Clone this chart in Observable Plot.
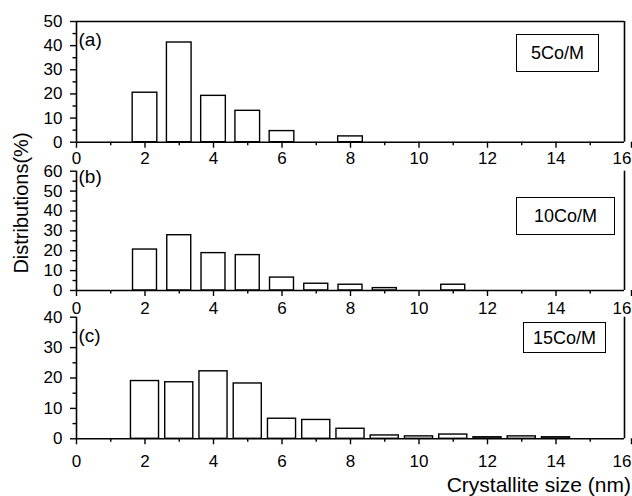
<!DOCTYPE html>
<html>
<head>
<meta charset="utf-8">
<script src="https://cdn.jsdelivr.net/npm/d3@7"></script>
<script src="https://cdn.jsdelivr.net/npm/@observablehq/plot@0.6"></script>
<style>
  body { margin: 0; background: #fff; }
  #chart { position: relative; width: 632px; height: 496px; font-family: "Liberation Sans", Arial, sans-serif; color: #000; overflow: hidden; }
  #chart svg { position: absolute; left: 0; top: 0; }
  .sample { position: absolute; box-sizing: border-box; border: 1.5px solid #000; display: flex; align-items: center; justify-content: center; font-size: 18px; line-height: 1; background: #fff; }
  .title { position: absolute; font-size: 20px; line-height: 1; white-space: nowrap; }
</style>
</head>
<body>
<div id="chart"></div>
<script>
// Crystallite size distributions of the three cobalt loadings
const sizesA = [2, 3, 4, 5, 6, 8];
const valuesA = [20.5, 41.3, 19.2, 13.0, 4.6, 2.4];

const sizesB = [2, 3, 4, 5, 6, 7, 8, 9, 11];
const valuesB = [20.6, 27.8, 18.8, 17.8, 6.5, 3.4, 2.9, 1.2, 2.9];

const sizesC = [2, 3, 4, 5, 6, 7, 8, 9, 10, 11, 12, 13, 14];
const valuesC = [19.0, 18.6, 22.2, 18.2, 6.6, 6.2, 3.3, 1.1, 0.8, 1.4, 0.5, 0.8, 0.5];

const panelLabels = ["(a)", "(b)", "(c)"];
const sampleNames = ["5Co/M", "10Co/M", "15Co/M"];
const yMaxima = [50, 60, 40];
const xTicks = [0, 2, 4, 6, 8, 10, 12, 14];
const xLastTick = [16];
const xMinorTicks = [1, 3, 5, 7, 9, 11, 13, 15];
const xTitle = "Crystallite size (nm)";
const yTitle = "Distributions(%)";

const W = 632, H = 496;
const font = "'Liberation Sans', Arial, sans-serif";

// vertical placement and look of each panel
const layout = [
  {top: 21, bottom: 141.7, half: 0.36, labelDy: 18, xPad: 4, boxed: true, box: {left: 516, top: 34, width: 83, height: 38}},
  {top: 170.7, bottom: 290, half: 0.35, labelDy: 6, xPad: 5.5, boxed: false, box: {left: 516, top: 197, width: 99, height: 38}},
  {top: 316.7, bottom: 438.3, half: 0.41, labelDy: 19, xPad: 10, boxed: false, box: {left: 523, top: 322, width: 83, height: 31}}
];

const series = [
  sizesA.map((s, i) => ({size: s, value: valuesA[i]})),
  sizesB.map((s, i) => ({size: s, value: valuesB[i]})),
  sizesC.map((s, i) => ({size: s, value: valuesC[i]}))
];

const chart = document.getElementById("chart");

series.forEach((data, k) => {
  const L = layout[k];
  const yMax = yMaxima[k];
  const yMajor = d3.range(0, yMax + 1, 10);
  const yMinor = d3.range(5, yMax, 10);
  const plot = Plot.plot({
    width: W,
    height: H,
    marginLeft: 76,
    marginRight: 8,
    marginTop: L.top,
    marginBottom: H - L.bottom,
    x: {domain: [0, 16]},
    y: {domain: [0, yMax]},
    style: {background: "transparent", fontFamily: font, overflow: "visible", color: "#000"},
    marks: [
      Plot.rectY(data, {
        x1: d => d.size - L.half,
        x2: d => d.size + L.half,
        y: "value",
        fill: "white",
        stroke: "black",
        strokeWidth: 1.4
      }),
      Plot.axisX({ticks: xTicks, tickSize: 6, tickPadding: L.xPad, fontSize: 17, label: null, strokeWidth: 1.4}),
      // the last label is nudged inward so it stays on the page
      Plot.axisX({ticks: xLastTick, tickSize: 6, tickPadding: L.xPad, fontSize: 17, label: null, strokeWidth: 1.4, textAnchor: "end", dx: 7}),
      Plot.axisX({ticks: xMinorTicks, tickSize: 3.5, tickFormat: () => "", label: null, strokeWidth: 1.4}),
      Plot.axisY({ticks: yMajor, tickSize: 6, tickPadding: 8, fontSize: 17, label: null, strokeWidth: 1.4}),
      Plot.axisY({ticks: yMinor, tickSize: 3.5, tickFormat: () => "", label: null, strokeWidth: 1.4}),
      Plot.ruleY([0], {stroke: "black", strokeWidth: 1.6}),
      Plot.ruleX([0], {stroke: "black", strokeWidth: 1.6}),
      Plot.ruleX([16], {stroke: "black", strokeWidth: 1.6}),
      L.boxed ? Plot.ruleY([yMax], {stroke: "black", strokeWidth: 1.6}) : null,
      Plot.text([panelLabels[k]], {
        frameAnchor: "top-left",
        textAnchor: "start",
        lineAnchor: "middle",
        dx: 2,
        dy: L.labelDy,
        fontSize: 19
      })
    ]
  });
  chart.appendChild(plot);

  const box = document.createElement("div");
  box.className = "sample";
  box.style.left = L.box.left + "px";
  box.style.top = L.box.top + "px";
  box.style.width = L.box.width + "px";
  box.style.height = L.box.height + "px";
  box.textContent = sampleNames[k];
  chart.appendChild(box);
});

// shared axis titles
const yt = document.createElement("div");
yt.className = "title";
yt.textContent = yTitle;
yt.style.left = "20.8px";
yt.style.top = "203.3px";
yt.style.transform = "translate(-50%, -50%) rotate(-90deg)";
chart.appendChild(yt);

const xt = document.createElement("div");
xt.className = "title";
xt.textContent = xTitle;
xt.style.fontSize = "21px";
xt.style.right = "1px";
xt.style.top = "474px";
chart.appendChild(xt);
</script>
</body>
</html>
